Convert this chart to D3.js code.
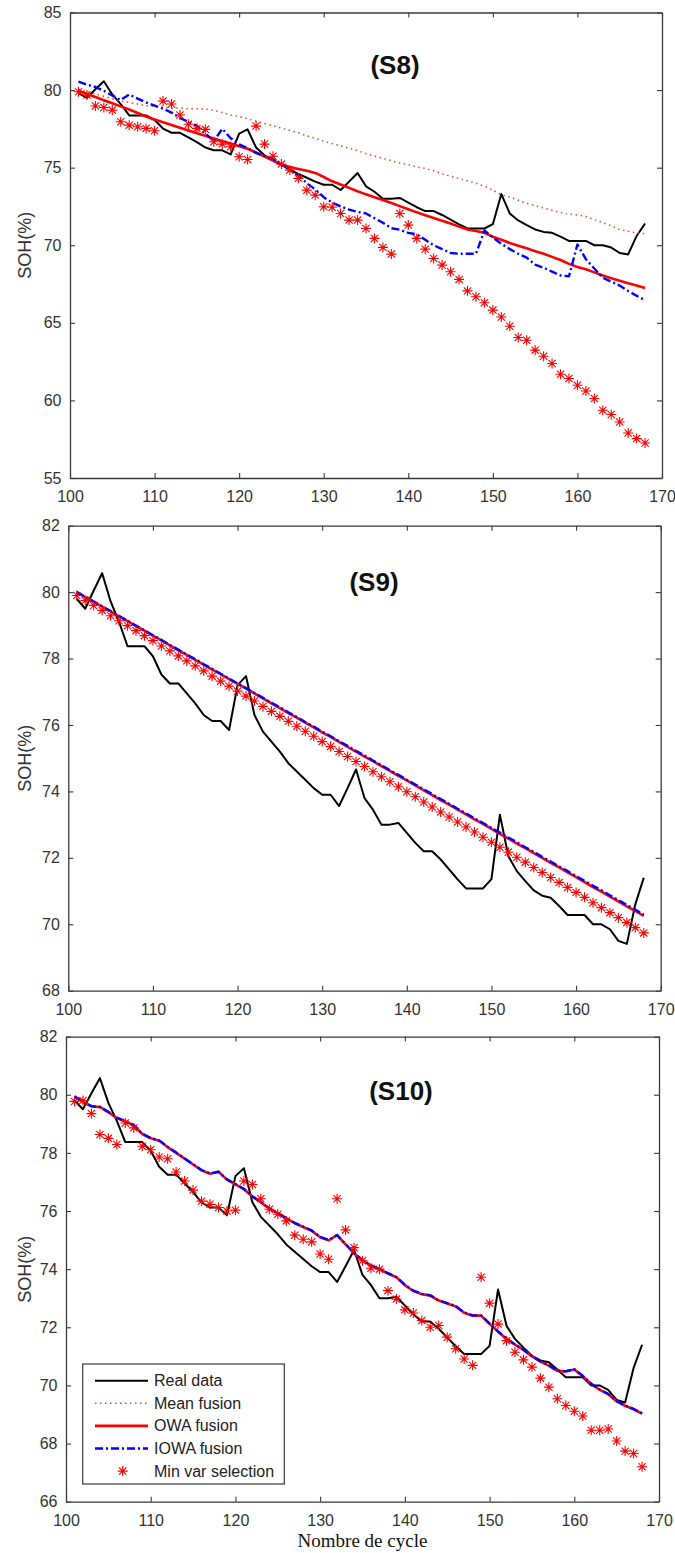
<!DOCTYPE html>
<html>
<head>
<meta charset="utf-8">
<script src="https://cdn.jsdelivr.net/npm/d3@7"></script>
<style>
  body { margin: 0; background: #fff; }
  svg { display: block; }
</style>
</head>
<body>
<svg id="chart" width="675" height="1553"></svg>
<script>
// Cycle numbers shared by every series
const cycles = d3.range(101, 169);

// Measured state of health (same in all three scenarios)
const realData = [79.8, 79.5, 80.05, 80.57, 79.72, 79.1, 78.37, 78.37, 78.37, 78.07,
  77.52, 77.25, 77.25, 76.95, 76.65, 76.3, 76.12, 76.12, 75.85, 77.2,
  77.47, 76.3, 75.8, 75.5, 75.2, 74.85, 74.6, 74.35, 74.1, 73.9,
  73.9, 73.56, 74.1, 74.66, 73.8, 73.45, 73.0, 73.0, 73.05, 72.75,
  72.45, 72.2, 72.2, 71.95, 71.65, 71.35, 71.08, 71.08, 71.08, 71.36,
  73.3, 72.05, 71.6, 71.3, 71.02, 70.86, 70.8, 70.55, 70.28, 70.28,
  70.28, 70.0, 70.0, 69.85, 69.5, 69.41, 70.6, 71.4];

// Scenario S8
const s8Mean = [80.05, 79.9, 79.75, 79.6, 79.45, 79.3, 79.2, 79.1, 79.0, 78.95,
  78.9, 78.85, 78.85, 78.8, 78.8, 78.78, 78.7, 78.55, 78.4, 78.3,
  78.15, 78.0, 77.85, 77.7, 77.55, 77.4, 77.25, 77.05, 76.9, 76.7,
  76.55, 76.4, 76.25, 76.1, 75.9, 75.75, 75.6, 75.45, 75.3, 75.2,
  75.05, 74.95, 74.8, 74.6, 74.45, 74.3, 74.15, 74.0, 73.8, 73.55,
  73.25, 73.1, 72.9, 72.7, 72.55, 72.4, 72.25, 72.1, 72.0, 71.95,
  71.85, 71.65, 71.45, 71.25, 71.0, 70.9, 70.8, 70.75];
const s8Owa = [79.96, 79.75, 79.55, 79.35, 79.15, 78.95, 78.75, 78.52, 78.3, 78.1,
  77.92, 77.75, 77.58, 77.4, 77.22, 77.05, 76.88, 76.7, 76.55, 76.38,
  76.22, 75.98, 75.72, 75.45, 75.18, 75.05, 74.92, 74.8, 74.66, 74.4,
  74.12, 73.92, 73.7, 73.48, 73.28, 73.1, 72.91, 72.72, 72.52, 72.32,
  72.12, 71.94, 71.76, 71.58, 71.4, 71.2, 71.02, 70.92, 70.8, 70.55,
  70.35, 70.15, 69.97, 69.8, 69.62, 69.45, 69.25, 69.05, 68.8, 68.6,
  68.45, 68.25, 68.05, 67.88, 67.72, 67.55, 67.4, 67.25];
const s8Iowa = [80.54, 80.35, 80.2, 79.95, 79.65, 79.36, 79.72, 79.45, 79.2, 79.0,
  78.8, 78.55, 78.2, 77.95, 77.7, 77.2, 76.7, 77.5, 76.9, 76.5,
  76.25, 75.95, 75.75, 75.55, 75.2, 74.9, 74.5, 74.0, 73.6, 73.1,
  72.75, 72.5, 72.3, 72.15, 72.05, 71.75, 71.45, 71.1, 71.0, 70.8,
  70.7, 70.35, 70.0, 69.75, 69.5, 69.45, 69.45, 69.45, 70.95, 70.5,
  70.1, 69.75, 69.45, 69.2, 68.75, 68.55, 68.3, 68.05, 68.0, 70.05,
  69.1, 68.5, 67.9, 67.65, 67.4, 67.05, 66.75, 66.45];
const s8MinVar = [79.89, 79.68, 78.97, 78.88, 78.71, 77.96, 77.74, 77.64, 77.53, 77.38,
  79.29, 79.1, 78.39, 77.8, 77.53, 77.47, 76.67, 76.52, 76.35, 75.7,
  75.53, 77.68, 76.52, 75.74, 75.23, 74.84, 74.31, 73.55, 73.23, 72.48,
  72.45, 72.05, 71.62, 71.62, 71.08, 70.44, 69.86, 69.43, 72.05, 71.3,
  70.44, 69.75, 69.15, 68.72, 68.29, 67.8, 67.06, 66.68, 66.29, 65.82,
  65.38, 64.78, 64.05, 63.88, 63.24, 62.85, 62.38, 61.69, 61.41, 60.98,
  60.61, 60.12, 59.37, 59.09, 58.61, 57.9, 57.54, 57.26];

// Scenario S9
const s9Owa = [80.0, 79.85, 79.71, 79.56, 79.42, 79.27, 79.13, 78.98, 78.84, 78.69,
  78.55, 78.4, 78.25, 78.11, 77.96, 77.82, 77.67, 77.53, 77.38, 77.24,
  77.1, 76.95, 76.8, 76.65, 76.51, 76.36, 76.22, 76.07, 75.93, 75.78,
  75.64, 75.49, 75.34, 75.2, 75.05, 74.91, 74.76, 74.62, 74.47, 74.33,
  74.18, 74.03, 73.89, 73.74, 73.6, 73.45, 73.31, 73.16, 73.02, 72.87,
  72.72, 72.58, 72.43, 72.29, 72.14, 72.0, 71.85, 71.71, 71.56, 71.42,
  71.27, 71.12, 70.98, 70.83, 70.69, 70.54, 70.4, 70.25];
const s9Iowa = [80.0, 79.86, 79.72, 79.57, 79.43, 79.28, 79.14, 78.99, 78.85, 78.7,
  78.56, 78.41, 78.27, 78.12, 77.98, 77.83, 77.69, 77.54, 77.4, 77.25,
  77.11, 76.96, 76.82, 76.67, 76.53, 76.38, 76.24, 76.09, 75.95, 75.8,
  75.66, 75.51, 75.37, 75.22, 75.08, 74.93, 74.79, 74.64, 74.5, 74.35,
  74.21, 74.06, 73.92, 73.77, 73.63, 73.48, 73.34, 73.19, 73.05, 72.9,
  72.76, 72.61, 72.47, 72.32, 72.18, 72.03, 71.89, 71.74, 71.6, 71.45,
  71.31, 71.16, 71.02, 70.87, 70.73, 70.58, 70.44, 70.29];
const s9MinVar = [79.9, 79.75, 79.6, 79.45, 79.29, 79.14, 78.99, 78.84, 78.69, 78.54,
  78.38, 78.23, 78.08, 77.93, 77.78, 77.63, 77.47, 77.32, 77.17, 77.02,
  76.87, 76.72, 76.56, 76.41, 76.26, 76.11, 75.96, 75.81, 75.66, 75.5,
  75.35, 75.2, 75.05, 74.9, 74.75, 74.59, 74.44, 74.29, 74.14, 73.99,
  73.84, 73.68, 73.53, 73.38, 73.23, 73.08, 72.93, 72.78, 72.62, 72.47,
  72.32, 72.17, 72.02, 71.87, 71.71, 71.56, 71.41, 71.26, 71.11, 70.96,
  70.81, 70.65, 70.5, 70.35, 70.2, 70.05, 69.9, 69.74];

// Scenario S10
const s10Owa = [79.94, 79.75, 79.6, 79.58, 79.4, 79.2, 79.08, 78.95, 78.65, 78.5,
  78.42, 78.2, 78.0, 77.8, 77.6, 77.4, 77.28, 77.35, 77.08, 76.92,
  76.75, 76.5, 76.3, 76.08, 75.92, 75.75, 75.58, 75.45, 75.32, 75.1,
  74.99, 75.17, 74.85, 74.55, 74.3, 74.12, 74.0, 73.85, 73.72, 73.45,
  73.25, 73.14, 73.09, 72.92, 72.82, 72.72, 72.5, 72.4, 72.4, 72.12,
  71.85, 71.6, 71.4, 71.22, 71.0, 70.82, 70.68, 70.5, 70.48, 70.55,
  70.32, 70.05, 69.85, 69.7, 69.45, 69.3, 69.18, 69.03];
const s10Iowa = [79.95, 79.76, 79.61, 79.58, 79.41, 79.21, 79.09, 78.95, 78.66, 78.51,
  78.43, 78.21, 78.01, 77.81, 77.61, 77.41, 77.29, 77.35, 77.09, 76.93,
  76.76, 76.51, 76.31, 76.09, 75.93, 75.76, 75.59, 75.46, 75.33, 75.11,
  75.0, 75.17, 74.86, 74.56, 74.31, 74.13, 74.01, 73.86, 73.73, 73.46,
  73.26, 73.15, 73.1, 72.93, 72.83, 72.73, 72.51, 72.41, 72.41, 72.13,
  71.86, 71.61, 71.41, 71.23, 71.01, 70.83, 70.69, 70.51, 70.49, 70.56,
  70.33, 70.06, 69.86, 69.71, 69.46, 69.31, 69.19, 69.04];
const s10MinVar = [79.77, 79.8, 79.35, 78.63, 78.5, 78.29, 79.03, 78.86, 78.23, 78.11,
  77.86, 77.8, 77.34, 77.03, 76.72, 76.34, 76.23, 76.12, 76.0, 76.03,
  77.03, 76.91, 76.42, 76.06, 75.89, 75.66, 75.17, 75.03, 74.94, 74.52,
  74.34, 76.42, 75.35, 74.74, 74.29, 74.03, 74.0, 73.26, 72.97, 72.6,
  72.49, 72.23, 72.0, 72.06, 71.66, 71.26, 70.91, 70.69, 73.72, 72.83,
  72.11, 71.54, 71.14, 70.88, 70.63, 70.25, 69.94, 69.54, 69.31, 69.11,
  68.95, 68.46, 68.46, 68.5, 68.09, 67.74, 67.66, 67.2];

// Tick values
const xTicks = [100, 110, 120, 130, 140, 150, 160, 170];
const s8YTicks = [55, 60, 65, 70, 75, 80, 85];
const s9YTicks = [68, 70, 72, 74, 76, 78, 80, 82];
const s10YTicks = [66, 68, 70, 72, 74, 76, 78, 80, 82];

// Legend entries
const seriesLabels = ["Real data", "Mean fusion", "OWA fusion", "IOWA fusion", "Min var selection"];

const panels = [
  { title: "(S8)", yDomain: [55, 85], yTicks: s8YTicks,
    mean: s8Mean, owa: s8Owa, iowa: s8Iowa, minVar: s8MinVar,
    left: 70, right: 662, top: 12.5, bottom: 478, titleX: 395, titleY: 65 },
  { title: "(S9)", yDomain: [68, 82], yTicks: s9YTicks,
    mean: s9Owa, owa: s9Owa, iowa: s9Iowa, minVar: s9MinVar,
    left: 68.3, right: 660.7, top: 525.7, bottom: 990.7, titleX: 374, titleY: 582 },
  { title: "(S10)", yDomain: [66, 82], yTicks: s10YTicks,
    mean: s10Owa, owa: s10Owa, iowa: s10Iowa, minVar: s10MinVar,
    left: 66, right: 659, top: 1036.6, bottom: 1501.7, titleX: 401, titleY: 1091,
    legend: true, xLabel: "Nombre de cycle" }
];

const styles = {
  real: { color: "#000000", width: 2, dash: null },
  mean: { color: "#d95319", width: 1.5, dash: "1.5,3.5" },
  owa:  { color: "#ff0000", width: 2.6, dash: null },
  iowa: { color: "#0000ff", width: 2.4, dash: "8,3,2,3" },
  star: { color: "#ff0000", width: 1.1, r: 5 }
};
const axisColor = "#3a3a3a";
const textColor = "#333333";
const sans = "'Liberation Sans', Arial, sans-serif";

function starPath(r) {
  const k = r * 0.72;
  return `M${-r},0H${r}M0,${-r}V${r}M${-k},${-k}L${k},${k}M${-k},${k}L${k},${-k}`;
}

const svg = d3.select("#chart");

function styleAxis(g) {
  g.select(".domain").attr("stroke", axisColor).attr("stroke-width", 1.3);
  g.selectAll(".tick line").attr("stroke", axisColor).attr("stroke-width", 1.1);
  g.selectAll(".tick text").attr("fill", textColor)
    .style("font-family", sans).style("font-size", "16px");
}

function drawPanel(p) {
  const g = svg.append("g");
  const x = d3.scaleLinear().domain([100, 170]).range([p.left, p.right]);
  const y = d3.scaleLinear().domain(p.yDomain).range([p.bottom, p.top]);

  // box axes with inward ticks on all four sides
  g.append("g").attr("transform", `translate(0,${p.bottom})`)
    .call(d3.axisBottom(x).tickValues(xTicks).tickSizeInner(-5).tickSizeOuter(0).tickPadding(13))
    .call(styleAxis);
  g.append("g").attr("transform", `translate(0,${p.top})`)
    .call(d3.axisTop(x).tickValues(xTicks).tickSizeInner(-5).tickSizeOuter(0).tickFormat(() => ""))
    .call(styleAxis);
  g.append("g").attr("transform", `translate(${p.left},0)`)
    .call(d3.axisLeft(y).tickValues(p.yTicks).tickSizeInner(-5).tickSizeOuter(0).tickPadding(8.5))
    .call(styleAxis);
  g.append("g").attr("transform", `translate(${p.right},0)`)
    .call(d3.axisRight(y).tickValues(p.yTicks).tickSizeInner(-5).tickSizeOuter(0).tickFormat(() => ""))
    .call(styleAxis);

  const line = d3.line().x((d, i) => x(cycles[i])).y(d => y(d));
  const addLine = (values, st) => g.append("path")
    .attr("d", line(values)).attr("fill", "none")
    .attr("stroke", st.color).attr("stroke-width", st.width)
    .attr("stroke-linejoin", "round")
    .attr("stroke-dasharray", st.dash);

  addLine(realData, styles.real);
  addLine(p.mean, styles.mean);
  addLine(p.owa, styles.owa);
  addLine(p.iowa, styles.iowa);

  g.append("g").selectAll("path").data(p.minVar).join("path")
    .attr("transform", (d, i) => `translate(${x(cycles[i])},${y(d)})`)
    .attr("d", starPath(styles.star.r))
    .attr("fill", "none").attr("stroke", styles.star.color)
    .attr("stroke-width", styles.star.width);

  // scenario title
  g.append("text").attr("x", p.titleX).attr("y", p.titleY)
    .attr("text-anchor", "middle").attr("dominant-baseline", "central")
    .style("font-family", sans).style("font-weight", "bold").style("font-size", "26px")
    .attr("fill", "#111").text(p.title);

  // y label
  const cy = (p.top + p.bottom) / 2;
  g.append("text").attr("transform", `translate(25,${cy}) rotate(-90)`)
    .attr("text-anchor", "middle").attr("dominant-baseline", "central")
    .style("font-family", sans).style("font-size", "18px")
    .attr("fill", textColor).text("SOH(%)");

  if (p.xLabel) {
    g.append("text").attr("x", (p.left + p.right) / 2).attr("y", p.bottom + 39)
      .attr("text-anchor", "middle").attr("dominant-baseline", "central")
      .style("font-family", "'Liberation Serif', 'Times New Roman', serif").style("font-size", "19px")
      .attr("fill", "#111").text(p.xLabel);
  }

  if (p.legend) {
    const lg = g.append("g").attr("transform", "translate(82.7,1364)");
    lg.append("rect").attr("width", 201.6).attr("height", 120)
      .attr("fill", "#fff").attr("stroke", axisColor).attr("stroke-width", 1.2);
    const keys = ["real", "mean", "owa", "iowa", "star"];
    keys.forEach((k, i) => {
      const yy = 16.7 + i * 22.6;
      const st = styles[k];
      if (k === "star") {
        lg.append("path").attr("transform", `translate(40,${yy})`)
          .attr("d", starPath(st.r)).attr("fill", "none")
          .attr("stroke", st.color).attr("stroke-width", st.width);
      } else {
        lg.append("line").attr("x1", 12.3).attr("x2", 65.3).attr("y1", yy).attr("y2", yy)
          .attr("stroke", st.color).attr("stroke-width", st.width)
          .attr("stroke-dasharray", st.dash);
      }
      lg.append("text").attr("x", 71.3).attr("y", yy)
        .attr("dominant-baseline", "central")
        .style("font-family", sans).style("font-size", "16px")
        .attr("fill", "#222").text(seriesLabels[i]);
    });
  }
}

panels.forEach(drawPanel);
</script>
</body>
</html>
